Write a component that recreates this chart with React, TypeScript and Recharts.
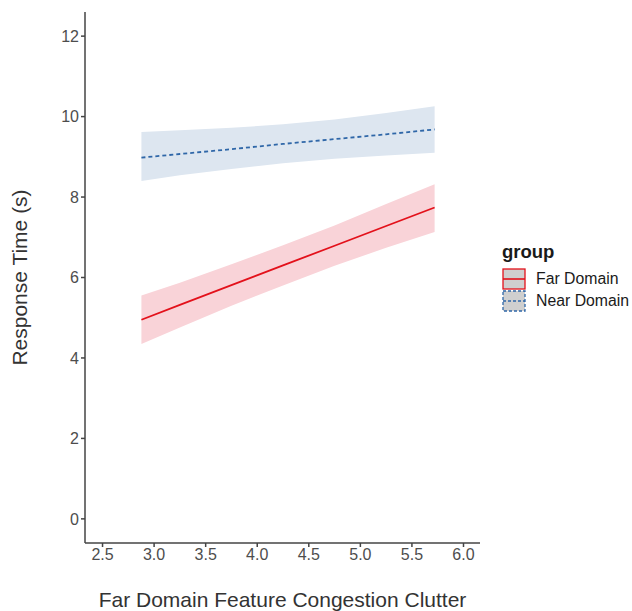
import { Area, ComposedChart, Line, XAxis, YAxis } from "recharts";

// x positions where the fitted lines and their bands are read
const xs = [2.877, 3.25, 3.75, 4.25, 4.75, 5.25, 5.72];

// Far Domain: fitted line and ribbon bounds
const farFit = [4.95, 5.32, 5.81, 6.3, 6.79, 7.28, 7.74];
const farLo = [4.35, 4.76, 5.3, 5.8, 6.29, 6.74, 7.13];
const farHi = [5.55, 5.87, 6.33, 6.8, 7.29, 7.83, 8.32];

// Near Domain: fitted line and ribbon bounds
const nearFit = [8.98, 9.07, 9.19, 9.32, 9.44, 9.56, 9.68];
const nearLo = [8.4, 8.54, 8.7, 8.84, 8.95, 9.03, 9.1];
const nearHi = [9.62, 9.66, 9.72, 9.81, 9.93, 10.09, 10.26];

const xTicks = [2.5, 3.0, 3.5, 4.0, 4.5, 5.0, 5.5, 6.0];
const yTicks = [0, 2, 4, 6, 8, 10, 12];

const data = xs.map((x, i) => ({
  x,
  far: farFit[i],
  farBand: [farLo[i], farHi[i]],
  near: nearFit[i],
  nearBand: [nearLo[i], nearHi[i]],
}));

const FONT = "'Liberation Sans', Arial, Helvetica, sans-serif";
const RED = "#e3111b";
const BLUE = "#2f67a8";

const Legend = () => (
  <div style={{ position: "absolute", left: 502, top: 241, fontFamily: FONT, color: "#1a1a1a" }}>
    <div style={{ fontWeight: "bold", fontSize: 18.5, marginBottom: 5 }}>group</div>
    {[
      { name: "Far Domain", color: RED, dash: undefined as string | undefined },
      { name: "Near Domain", color: BLUE, dash: "3 2" },
    ].map((k) => (
      <div key={k.name} style={{ display: "flex", alignItems: "center", height: 22 }}>
        <svg width={24} height={22}>
          <rect x={1} y={1} width={22} height={20} fill="#cfcfcf" stroke={k.color} strokeWidth={1.3} strokeDasharray={k.dash} />
          <line x1={1} y1={11} x2={23} y2={11} stroke={k.color} strokeWidth={1.6} strokeDasharray={k.dash} />
        </svg>
        <span style={{ marginLeft: 10, fontSize: 15.8 }}>{k.name}</span>
      </div>
    ))}
  </div>
);

export default function App() {
  return (
    <div style={{ position: "absolute", left: 0, top: 0, width: 632, height: 611, background: "#fff" }}>
      <ComposedChart width={632} height={611} data={data} margin={{ top: 12, right: 152, bottom: 0, left: 0 }}>
        <XAxis
          dataKey="x"
          type="number"
          domain={[2.33, 6.16]}
          ticks={xTicks}
          tickFormatter={(v: number) => v.toFixed(1)}
          allowDataOverflow
          height={68}
          stroke="#444"
          strokeWidth={1.5}
          tickSize={4}
          tick={{ fill: "#4d4d4d", fontSize: 16, fontFamily: FONT }}
          label={{ value: "Far Domain Feature Congestion Clutter", position: "insideBottom", offset: 4, fill: "#333", fontSize: 21, fontFamily: FONT }}
        />
        <YAxis
          type="number"
          domain={[-0.6, 12.6]}
          ticks={yTicks}
          allowDataOverflow
          width={85}
          stroke="#444"
          strokeWidth={1.5}
          tickSize={4}
          tick={{ fill: "#4d4d4d", fontSize: 16, fontFamily: FONT }}
          label={{ value: "Response Time (s)", angle: -90, position: "insideLeft", offset: 20, fill: "#333", fontSize: 21, fontFamily: FONT, style: { textAnchor: "middle" } }}
        />
        <Area dataKey="nearBand" type="linear" stroke="none" fill="#dde6f0" fillOpacity={1} isAnimationActive={false} />
        <Area dataKey="farBand" type="linear" stroke="none" fill="#f9d3d8" fillOpacity={1} isAnimationActive={false} />
        <Line dataKey="near" type="linear" stroke={BLUE} strokeWidth={1.8} strokeDasharray="4 3" dot={false} isAnimationActive={false} />
        <Line dataKey="far" type="linear" stroke={RED} strokeWidth={1.8} dot={false} isAnimationActive={false} />
      </ComposedChart>
      <Legend />
    </div>
  );
}
